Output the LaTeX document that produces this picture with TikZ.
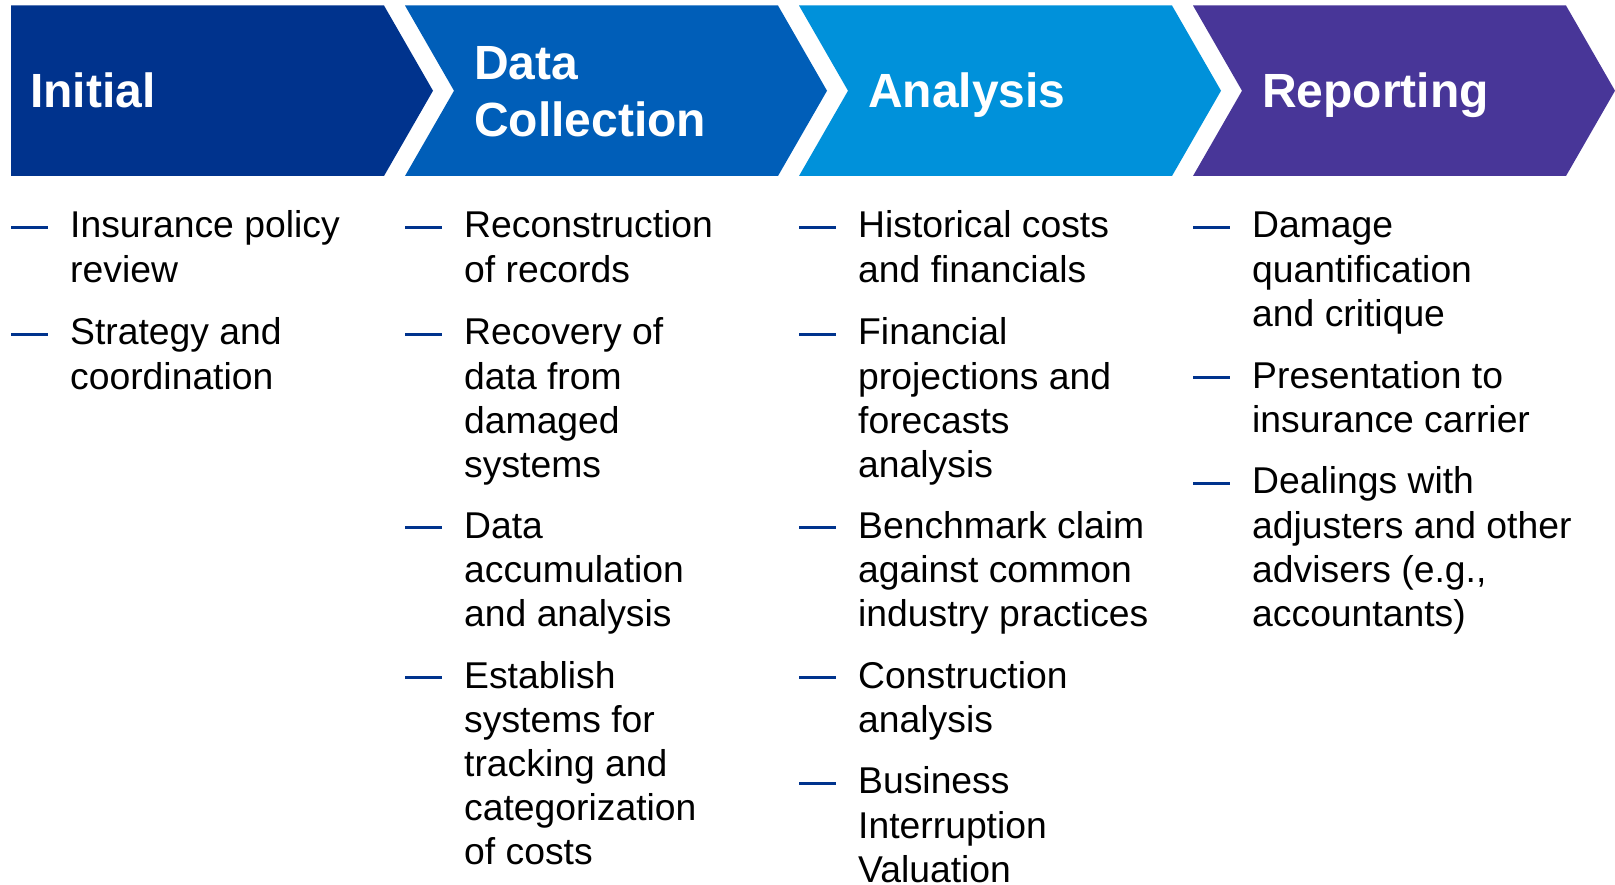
\documentclass[tikz,border=0pt]{standalone}
\usepackage{fontspec}
\setmainfont{Liberation Sans}
\definecolor{kBlue}{HTML}{00338D}
\definecolor{kMid}{HTML}{005EB8}
\definecolor{kLight}{HTML}{0091DA}
\definecolor{kPurple}{HTML}{483698}
\begin{document}
\begin{tikzpicture}[x=1pt,y=-1pt]
% ----- columns (x) & rows (y) -----
\def\xA{11}
\def\xB{405}
\def\xC{799}
\def\xD{1193}

\def\yTop{5.5}
\def\yBot{176}
\def\yMid{90.75}

% chevron width & tip depth
\def\wChev{373}
\def\dTip{49}

% text indent & line pitch
\def\dTxt{59}
\def\dLine{44.2}

% styles
\tikzset{
  head/.style={anchor=base west,inner sep=0,align=left,text=white,
    font=\fontsize{48}{57}\selectfont\bfseries},
  item/.style={anchor=base west,inner sep=0,align=left,
    font=\fontsize{37.3}{44.2}\selectfont},
  bar/.style={line width=3pt,kBlue}
}

\useasboundingbox (0,0) rectangle (1615,885);

% ===== chevrons =====
\fill[kBlue] (\xA,\yTop) -- (\xA+\wChev,\yTop) -- (\xA+\wChev+\dTip,\yMid)
  -- (\xA+\wChev,\yBot) -- (\xA,\yBot) -- cycle;
\fill[kMid] (\xB,\yTop) -- (\xB+\wChev,\yTop) -- (\xB+\wChev+\dTip,\yMid)
  -- (\xB+\wChev,\yBot) -- (\xB,\yBot) -- (\xB+\dTip,\yMid) -- cycle;
\fill[kLight] (\xC,\yTop) -- (\xC+\wChev,\yTop) -- (\xC+\wChev+\dTip,\yMid)
  -- (\xC+\wChev,\yBot) -- (\xC,\yBot) -- (\xC+\dTip,\yMid) -- cycle;
\fill[kPurple] (\xD,\yTop) -- (\xD+\wChev,\yTop) -- (\xD+\wChev+\dTip,\yMid)
  -- (\xD+\wChev,\yBot) -- (\xD,\yBot) -- (\xD+\dTip,\yMid) -- cycle;

% headings (base = last line)
\node[head] (hInit) at (\xA+19,107.5) {Initial};
\node[head] (hData) at (\xB+69,137) {Data\\Collection};
\node[head] (hAna)  at (\xC+69,107.5) {Analysis};
\node[head] (hRep)  at (\xD+69,107.5) {Reporting};

% ===== Initial column (base = last line) =====
\node[item] (iA1) at (\xA+\dTxt,282.2) {Insurance policy\\review};
\node[item] (iA2) at (\xA+\dTxt,389)   {Strategy and\\coordination};

% ===== Data Collection column =====
\node[item] (iB1) at (\xB+\dTxt,282.2) {Reconstruction\\of records};
\node[item] (iB2) at (\xB+\dTxt,477.4) {Recovery of\\data from\\damaged\\systems};
\node[item] (iB3) at (\xB+\dTxt,626.4) {Data\\accumulation\\and analysis};
\node[item] (iB4) at (\xB+\dTxt,864.8) {Establish\\systems for\\tracking and\\categorization\\of costs};

% ===== Analysis column =====
\node[item] (iC1) at (\xC+\dTxt,282.2) {Historical costs\\and financials};
\node[item] (iC2) at (\xC+\dTxt,477.4) {Financial\\projections and\\forecasts\\analysis};
\node[item] (iC3) at (\xC+\dTxt,626.4) {Benchmark claim\\against common\\industry practices};
\node[item] (iC4) at (\xC+\dTxt,732.2) {Construction\\analysis};
\node[item] (iC5) at (\xC+\dTxt,882.2) {Business\\Interruption\\Valuation};

% ===== Reporting column =====
\node[item] (iD1) at (\xD+\dTxt,326.4) {Damage\\quantification\\and critique};
\node[item] (iD2) at (\xD+\dTxt,432.2) {Presentation to\\insurance carrier};
\node[item] (iD3) at (\xD+\dTxt,626.4) {Dealings with\\adjusters and other\\advisers (e.g.,\\accountants)};

% ----- bullet bars (node / number of lines) -----
\foreach \n/\k in {iA1/2,iA2/2,iB1/2,iB2/4,iB3/3,iB4/5,iC1/2,iC2/4,iC3/3,iC4/2,iC5/3,iD1/3,iD2/2,iD3/4}
  \draw[bar] ([xshift=-\dTxt pt,yshift={10.5pt+(\k-1)*\dLine pt}]\n.base west) -- ++(37,0);
\end{tikzpicture}
\end{document}
